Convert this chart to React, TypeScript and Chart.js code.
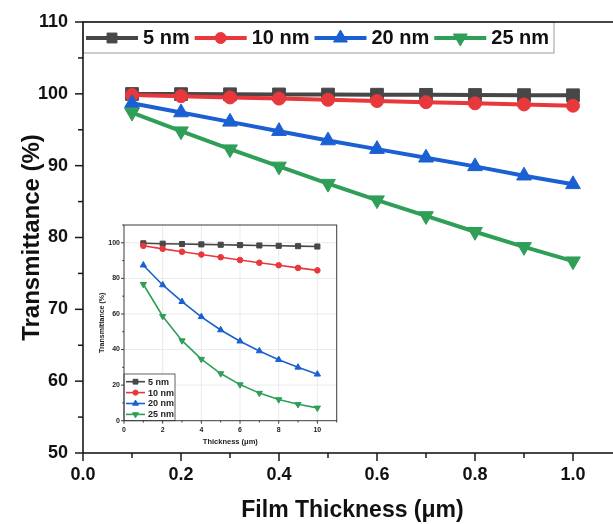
import React, { useEffect, useRef } from 'react';
import { Chart, registerables } from 'chart.js';

Chart.register(...registerables);

// ---------- data ----------
const seriesLabels = ['5 nm', '10 nm', '20 nm', '25 nm'];
const seriesColors = ['#474747', '#e8383c', '#1b60d2', '#2f9f58'];
const seriesStyles = ['rect', 'circle', 'triangle', 'triangle'];
const seriesRotations = [0, 0, 0, 180];

const mainX = [0.1, 0.2, 0.3, 0.4, 0.5, 0.6, 0.7, 0.8, 0.9, 1.0];
const main5 = [99.98, 99.96, 99.94, 99.92, 99.9, 99.88, 99.86, 99.84, 99.82, 99.8];
const main10 = [99.83, 99.67, 99.5, 99.34, 99.17, 99.0, 98.84, 98.68, 98.52, 98.35];
const main20 = [98.7, 97.4, 96.1, 94.8, 93.5, 92.3, 91.1, 89.9, 88.6, 87.4];
const main25 = [97.4, 94.8, 92.3, 89.9, 87.5, 85.2, 83.0, 80.8, 78.7, 76.7];

const insetX = [1, 2, 3, 4, 5, 6, 7, 8, 9, 10];
const inset5 = [99.7, 99.5, 99.3, 99.1, 98.9, 98.7, 98.5, 98.3, 98.1, 97.9];
const inset10 = [98.3, 96.6, 95.0, 93.4, 91.9, 90.3, 88.8, 87.4, 85.9, 84.5];
const inset20 = [87.4, 76.3, 66.9, 58.4, 51.0, 44.7, 39.2, 34.3, 30.0, 26.1];
const inset25 = [76.7, 58.7, 45.0, 34.6, 26.5, 20.3, 15.5, 11.9, 9.2, 7.2];

const mainXLabels = ['0.0', '0.2', '0.4', '0.6', '0.8', '1.0'];
const mainYLabels = ['50', '60', '70', '80', '90', '100', '110'];
const insetXLabels = ['0', '2', '4', '6', '8', '10'];
const insetYLabels = ['0', '20', '40', '60', '80', '100'];

const FONT = "'Liberation Sans', Arial, Helvetica, sans-serif";

function labelFor(list: string[], v: number) {
  const hit = list.find((s) => Math.abs(parseFloat(s) - v) < 1e-6);
  return hit === undefined ? '' : hit;
}

function fixWidth(w: number) {
  return (s: any) => {
    s.width = w;
    s.paddingTop = 0;
    s.paddingBottom = 0;
    s.paddingLeft = 0;
    s.paddingRight = 0;
  };
}
function fixHeight(h: number) {
  return (s: any) => {
    s.height = h;
    s.paddingTop = 0;
    s.paddingBottom = 0;
    s.paddingLeft = 0;
    s.paddingRight = 0;
  };
}

function drawMarker(ctx: CanvasRenderingContext2D, style: string, rot: number, x: number, y: number, r: number, color: string) {
  ctx.save();
  ctx.fillStyle = color;
  ctx.strokeStyle = color;
  ctx.lineWidth = 1;
  ctx.beginPath();
  if (style === 'rect') {
    const s = r * Math.SQRT1_2;
    ctx.rect(x - s, y - s, 2 * s, 2 * s);
  } else if (style === 'circle') {
    ctx.arc(x, y, r, 0, Math.PI * 2);
  } else {
    let a = (rot * Math.PI) / 180;
    ctx.moveTo(x + Math.sin(a) * r, y - Math.cos(a) * r);
    a += (2 * Math.PI) / 3;
    ctx.lineTo(x + Math.sin(a) * r, y - Math.cos(a) * r);
    a += (2 * Math.PI) / 3;
    ctx.lineTo(x + Math.sin(a) * r, y - Math.cos(a) * r);
    ctx.closePath();
  }
  ctx.fill();
  ctx.stroke();
  ctx.restore();
}

const frameTicksPlugin = {
  id: 'frameTicks',
  beforeDraw(chart: any, _args: any, opts: any) {
    if (opts.background) {
      const { ctx, width, height } = chart;
      ctx.save();
      ctx.fillStyle = opts.background;
      ctx.fillRect(0, 0, width, height);
      ctx.restore();
    }
  },
  beforeDatasetsDraw(chart: any, _args: any, opts: any) {
    if (!opts.grid) return;
    const { ctx, chartArea: a, scales } = chart;
    ctx.save();
    ctx.strokeStyle = opts.grid;
    ctx.lineWidth = 0.8;
    for (const t of scales.x.ticks) {
      if (!t.label || t.value <= scales.x.min) continue;
      const px = scales.x.getPixelForValue(t.value);
      ctx.beginPath();
      ctx.moveTo(px, a.top);
      ctx.lineTo(px, a.bottom);
      ctx.stroke();
    }
    for (const t of scales.y.ticks) {
      if (!t.label || t.value <= scales.y.min) continue;
      const py = scales.y.getPixelForValue(t.value);
      ctx.beginPath();
      ctx.moveTo(a.left, py);
      ctx.lineTo(a.right, py);
      ctx.stroke();
    }
    ctx.restore();
  },
  afterDraw(chart: any, _args: any, opts: any) {
    const { ctx, chartArea: a, scales } = chart;
    ctx.save();
    // legend
    const lg = opts.legend;
    if (lg) {
      const [bx0, by0, bx1, by1] = lg.box;
      ctx.fillStyle = '#ffffff';
      ctx.fillRect(bx0, by0, bx1 - bx0, by1 - by0);
      ctx.strokeStyle = lg.boxColor;
      ctx.lineWidth = lg.boxWidth;
      ctx.strokeRect(bx0, by0, bx1 - bx0, by1 - by0);
      ctx.font = lg.font;
      ctx.textBaseline = 'middle';
      ctx.textAlign = 'left';
      let x = lg.x0;
      let y = lg.y0;
      chart.data.datasets.forEach((ds: any) => {
        ctx.strokeStyle = ds.borderColor;
        ctx.lineWidth = lg.lineWidth;
        ctx.beginPath();
        ctx.moveTo(x, y);
        ctx.lineTo(x + lg.lineLen, y);
        ctx.stroke();
        drawMarker(ctx, ds.pointStyle, ds.pointRotation || 0, x + lg.lineLen / 2, y, lg.markerR[ds.pointStyle], ds.borderColor);
        ctx.fillStyle = lg.textColor;
        ctx.fillText(ds.label, x + lg.lineLen + lg.gap, y + 0.5);
        if (lg.vertical) y += lg.step;
        else x += lg.lineLen + lg.gap + ctx.measureText(ds.label).width + lg.gap;
      });
    }
    // frame
    ctx.strokeStyle = opts.color;
    ctx.lineWidth = opts.width;
    ctx.strokeRect(a.left, a.top, a.right - a.left, a.bottom - a.top);
    // ticks
    ctx.lineWidth = opts.tickWidth;
    for (const t of scales.x.ticks) {
      const px = scales.x.getPixelForValue(t.value);
      const len = t.label ? opts.major : opts.minor;
      ctx.beginPath();
      ctx.moveTo(px, a.bottom);
      ctx.lineTo(px, a.bottom + len);
      ctx.stroke();
    }
    for (const t of scales.y.ticks) {
      const py = scales.y.getPixelForValue(t.value);
      const len = t.label ? opts.major : opts.minor;
      ctx.beginPath();
      ctx.moveTo(a.left, py);
      ctx.lineTo(a.left - len, py);
      ctx.stroke();
    }
    ctx.restore();
  },
};

function makeDatasets(xs: number[], ys: number[][], radii: number[], lineWidth: number) {
  return ys.map((vals, i) => ({
    label: seriesLabels[i],
    data: xs.map((x, j) => ({ x, y: vals[j] })),
    borderColor: seriesColors[i],
    backgroundColor: seriesColors[i],
    pointBackgroundColor: seriesColors[i],
    pointBorderColor: seriesColors[i],
    pointStyle: seriesStyles[i],
    pointRotation: seriesRotations[i],
    pointRadius: radii[i],
    pointBorderWidth: 1,
    borderWidth: lineWidth,
    tension: 0,
    order: ys.length - i,
  }));
}

function MainChart() {
  const ref = useRef<HTMLCanvasElement>(null);
  useEffect(() => {
    const chart = new Chart(ref.current as HTMLCanvasElement, {
      type: 'line',
      data: { datasets: makeDatasets(mainX, [main5, main10, main20, main25], [9, 6.5, 8.5, 8.5], 4) as any },
      plugins: [frameTicksPlugin as any],
      options: {
        responsive: false,
        animation: false,
        devicePixelRatio: 1,
        layout: { autoPadding: false, padding: { top: 22, right: 0, left: 0, bottom: 0 } },
        plugins: {
          legend: { display: false },
          tooltip: { enabled: false },
          frameTicks: {
            color: '#1a1a1a',
            width: 1.6,
            tickWidth: 1.5,
            major: 8,
            minor: 5,
            legend: {
              box: [83, 22, 554, 53],
              boxColor: '#9a9a9a',
              boxWidth: 1,
              x0: 86,
              y0: 38,
              lineLen: 52,
              gap: 5,
              lineWidth: 4,
              font: `bold 20px ${FONT}`,
              textColor: '#111',
              markerR: { rect: 7, circle: 5.5, triangle: 8 },
              vertical: false,
            },
          },
        } as any,
        scales: {
          x: {
            type: 'linear',
            min: 0,
            max: 1.1,
            afterFit: fixHeight(71),
            grid: { display: false, drawTicks: false },
            border: { display: false },
            ticks: {
              stepSize: 0.1,
              autoSkip: false,
              maxRotation: 0,
              padding: 11,
              color: '#111',
              font: { family: FONT, size: 18, weight: 'bold' },
              callback: (v: any) => labelFor(mainXLabels, Number(v)),
            },
            title: {
              display: true,
              text: 'Film Thickness (μm)',
              color: '#111',
              padding: { top: 0, bottom: 0 },
              font: { family: FONT, size: 23, weight: 'bold' },
            },
          },
          y: {
            type: 'linear',
            min: 50,
            max: 110,
            afterFit: fixWidth(83),
            grid: { display: false, drawTicks: false },
            border: { display: false },
            ticks: {
              stepSize: 5,
              autoSkip: false,
              padding: 15,
              color: '#111',
              font: { family: FONT, size: 18, weight: 'bold' },
              callback: (v: any) => labelFor(mainYLabels, Number(v)),
            },
            title: {
              display: true,
              text: 'Transmittance (%)',
              color: '#111',
              padding: { top: 18, bottom: 0 },
              font: { family: FONT, size: 24, weight: 'bold' },
            },
          },
        },
      } as any,
    });
    return () => chart.destroy();
  }, []);
  return (
    <canvas
      ref={ref}
      width={622}
      height={524}
      style={{ position: 'absolute', left: 0, top: 0, width: 622, height: 524 }}
    />
  );
}

function InsetChart() {
  const ref = useRef<HTMLCanvasElement>(null);
  useEffect(() => {
    const chart = new Chart(ref.current as HTMLCanvasElement, {
      type: 'line',
      data: { datasets: makeDatasets(insetX, [inset5, inset10, inset20, inset25], [3.6, 2.8, 3.6, 3.6], 1.6) as any },
      plugins: [frameTicksPlugin as any],
      options: {
        responsive: false,
        animation: false,
        devicePixelRatio: 1,
        layout: { autoPadding: false, padding: { top: 7, right: 3.3, left: 0, bottom: 0 } },
        plugins: {
          legend: { display: false },
          tooltip: { enabled: false },
          frameTicks: {
            background: '#ffffff',
            grid: '#e4e4e4',
            color: '#3a3a3a',
            width: 1,
            tickWidth: 1,
            major: 3,
            minor: 1.8,
            legend: {
              box: [26, 156, 77, 202.7],
              boxColor: '#3a3a3a',
              boxWidth: 0.8,
              x0: 28,
              y0: 163.7,
              step: 10.9,
              lineLen: 19,
              gap: 3,
              lineWidth: 1.6,
              font: `bold 9px ${FONT}`,
              textColor: '#222',
              markerR: { rect: 3.4, circle: 2.6, triangle: 3.4 },
              vertical: true,
            },
          },
        } as any,
        scales: {
          x: {
            type: 'linear',
            min: 0,
            max: 11,
            afterFit: fixHeight(29.3),
            grid: { display: false, drawTicks: false },
            border: { display: false },
            ticks: {
              stepSize: 1,
              autoSkip: false,
              maxRotation: 0,
              padding: 5,
              color: '#222',
              font: { family: FONT, size: 7, weight: 'bold' },
              callback: (v: any) => labelFor(insetXLabels, Number(v)),
            },
            title: {
              display: true,
              text: 'Thickness (μm)',
              color: '#222',
              padding: { top: 0, bottom: 3.5 },
              font: { family: FONT, size: 7.5, weight: 'bold' },
            },
          },
          y: {
            type: 'linear',
            min: 0,
            max: 110,
            afterFit: fixWidth(26),
            grid: { display: false, drawTicks: false },
            border: { display: false },
            ticks: {
              stepSize: 10,
              autoSkip: false,
              padding: 4,
              color: '#222',
              font: { family: FONT, size: 7, weight: 'bold' },
              callback: (v: any) => labelFor(insetYLabels, Number(v)),
            },
            title: {
              display: true,
              text: 'Transmittance (%)',
              color: '#222',
              padding: { top: 0, bottom: 0 },
              font: { family: FONT, size: 7, weight: 'bold' },
            },
          },
        },
      } as any,
    });
    return () => chart.destroy();
  }, []);
  return (
    <canvas
      ref={ref}
      width={242}
      height={232}
      style={{ position: 'absolute', left: 98, top: 218, width: 242, height: 232 }}
    />
  );
}

export default function App() {
  return (
    <div
      style={{
        position: 'absolute',
        left: 0,
        top: 0,
        width: 613,
        height: 524,
        overflow: 'hidden',
        background: '#ffffff',
      }}
    >
      <MainChart />
      <InsetChart />
    </div>
  );
}
